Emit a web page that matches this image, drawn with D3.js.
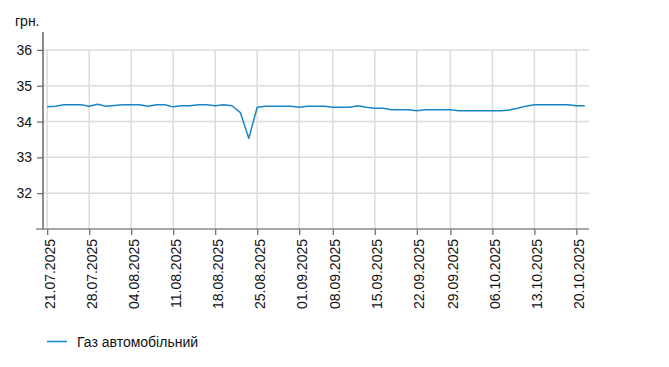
<!DOCTYPE html>
<html>
<head>
<meta charset="utf-8">
<script src="https://cdn.jsdelivr.net/npm/d3@7"></script>
<style>
  html, body { margin: 0; padding: 0; background: #fff; }
  svg { display: block; font-family: Arial, "Liberation Sans", sans-serif; }
</style>
</head>
<body>
<svg id="chart" width="669" height="367"></svg>
<script>
// ---- data ----
const seriesName = "Газ автомобільний";
const unitLabel = "грн.";
const dates = [
  "21.07.2025","22.07.2025","23.07.2025","24.07.2025","25.07.2025",
  "28.07.2025","29.07.2025","30.07.2025","31.07.2025","01.08.2025",
  "04.08.2025","05.08.2025","06.08.2025","07.08.2025","08.08.2025",
  "11.08.2025","12.08.2025","13.08.2025","14.08.2025","15.08.2025",
  "18.08.2025","19.08.2025","20.08.2025","21.08.2025","22.08.2025",
  "25.08.2025","26.08.2025","27.08.2025","28.08.2025","29.08.2025",
  "01.09.2025","02.09.2025","03.09.2025","04.09.2025",
  "08.09.2025","09.09.2025","10.09.2025","11.09.2025","12.09.2025",
  "15.09.2025","16.09.2025","17.09.2025","18.09.2025","19.09.2025",
  "22.09.2025","23.09.2025","24.09.2025","25.09.2025",
  "29.09.2025","30.09.2025","01.10.2025","02.10.2025","03.10.2025",
  "06.10.2025","07.10.2025","08.10.2025","09.10.2025","10.10.2025",
  "13.10.2025","14.10.2025","15.10.2025","16.10.2025","17.10.2025",
  "20.10.2025","21.10.2025"
];
const prices = [
  34.41,34.43,34.47,34.47,34.47,
  34.43,34.48,34.43,34.45,34.47,
  34.47,34.47,34.43,34.47,34.47,
  34.41,34.44,34.44,34.47,34.47,
  34.44,34.47,34.44,34.25,33.53,
  34.40,34.43,34.43,34.43,34.43,
  34.40,34.43,34.43,34.43,
  34.40,34.40,34.40,34.44,34.40,
  34.37,34.37,34.33,34.33,34.33,
  34.30,34.33,34.33,34.33,
  34.33,34.30,34.30,34.30,34.30,
  34.30,34.30,34.32,34.37,34.43,
  34.47,34.47,34.47,34.47,34.47,
  34.44,34.44
];
const xTickLabels = ["21.07.2025","28.07.2025","04.08.2025","11.08.2025","18.08.2025",
  "25.08.2025","01.09.2025","08.09.2025","15.09.2025","22.09.2025","29.09.2025",
  "06.10.2025","13.10.2025","20.10.2025"];
const yTicks = [32, 33, 34, 35, 36];
const yDomain = [31, 36.5];

// ---- layout ----
const svg = d3.select("#chart");
const mLeft = 43, mRight = 589, mTop = 32, mBottom = 229;
const lineColor = "#1a84c7";
const gridColor = "#dcdcdc";
const axisColor = "#666";
const textColor = "#111";

const x = d3.scalePoint().domain(dates).range([mLeft, mRight]).padding(0.5);
const y = d3.scaleLinear().domain(yDomain).range([mBottom, mTop]);

// horizontal grid
svg.append("g").selectAll("line").data(yTicks).join("line")
  .attr("x1", mLeft).attr("x2", mRight)
  .attr("y1", d => y(d)).attr("y2", d => y(d))
  .attr("stroke", gridColor).attr("stroke-width", 1.5);

// vertical grid
svg.append("g").selectAll("line").data(xTickLabels).join("line")
  .attr("x1", d => x(d)).attr("x2", d => x(d))
  .attr("y1", y(36)).attr("y2", mBottom)
  .attr("stroke", gridColor).attr("stroke-width", 1.5);

// y axis
const yAxis = d3.axisLeft(y).tickValues(yTicks).tickSize(6).tickPadding(5).tickFormat(d3.format("d"));
const gy = svg.append("g").attr("transform", `translate(${mLeft},0)`).call(yAxis);
gy.select(".domain").remove();
gy.selectAll(".tick line").attr("stroke", axisColor).attr("stroke-width", 1.2);
gy.selectAll(".tick text").attr("fill", textColor).style("font-size", "14px")
  .style("font-family", "Arial, 'Liberation Sans', sans-serif");
svg.append("line").attr("x1", mLeft).attr("x2", mLeft).attr("y1", mTop).attr("y2", mBottom + 1)
  .attr("stroke", axisColor).attr("stroke-width", 1.5);

// x axis
const xAxis = d3.axisBottom(x).tickValues(xTickLabels).tickSize(6).tickFormat(d => d);
const gx = svg.append("g").attr("transform", `translate(0,${mBottom})`).call(xAxis);
gx.select(".domain").remove();
gx.selectAll(".tick line").attr("stroke", axisColor).attr("stroke-width", 1.2);
gx.selectAll(".tick text")
  .attr("fill", textColor)
  .style("font-size", "14px")
  .style("font-family", "Arial, 'Liberation Sans', sans-serif")
  .attr("text-anchor", "end")
  .attr("transform", "rotate(-90)")
  .attr("x", -10).attr("y", 2).attr("dy", "0.36em");
svg.append("line").attr("x1", 36).attr("x2", mRight).attr("y1", mBottom).attr("y2", mBottom)
  .attr("stroke", "#8a8a8a").attr("stroke-width", 1.6);

// unit label
svg.append("text").attr("x", 15).attr("y", 26).text(unitLabel)
  .attr("fill", textColor).style("font-size", "14px");

// line
const line = d3.line().x((d, i) => x(dates[i])).y(d => y(d));
svg.append("path").datum(prices)
  .attr("d", line).attr("fill", "none")
  .attr("stroke", lineColor).attr("stroke-width", 1.5)
  .attr("stroke-linejoin", "round");

// legend
svg.append("line").attr("x1", 47).attr("x2", 67).attr("y1", 341.5).attr("y2", 341.5)
  .attr("stroke", lineColor).attr("stroke-width", 1.5);
svg.append("text").attr("x", 77).attr("y", 346.5).text(seriesName)
  .attr("fill", textColor).style("font-size", "14px");
</script>
</body>
</html>
